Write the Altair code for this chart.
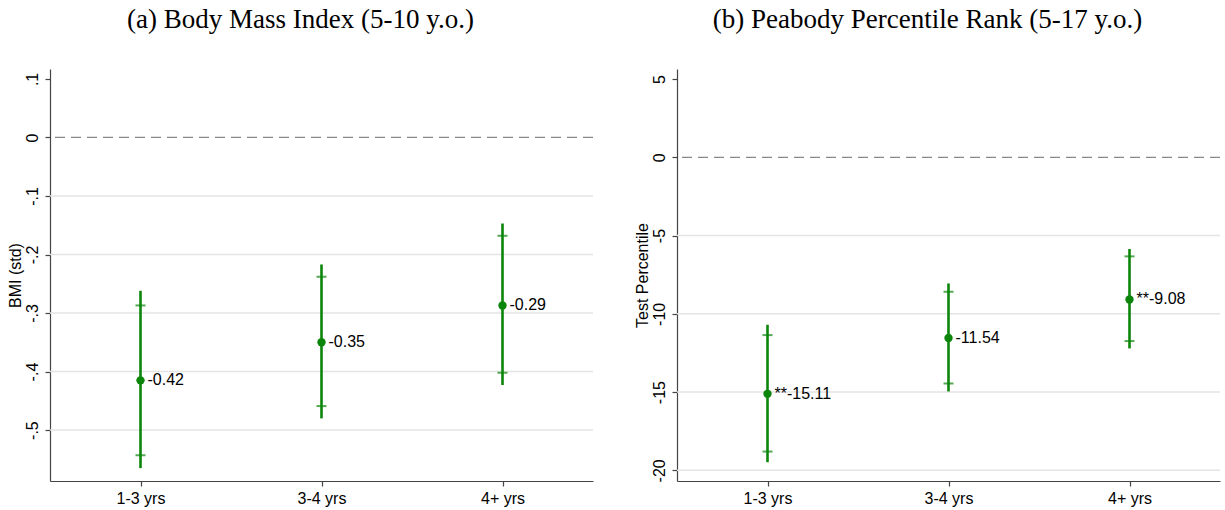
import altair as alt
import pandas as pd

# ---------------- data ----------------
categories = ["1-3 yrs", "3-4 yrs", "4+ yrs"]

bmi_est = [-0.415, -0.350, -0.287]
bmi_ci95_lo = [-0.565, -0.480, -0.423]
bmi_ci95_hi = [-0.262, -0.217, -0.147]
bmi_ci90_lo = [-0.543, -0.459, -0.402]
bmi_ci90_hi = [-0.287, -0.238, -0.168]
bmi_labels = ["-0.42", "-0.35", "-0.29"]

pea_est = [-15.11, -11.54, -9.08]
pea_ci95_lo = [-19.48, -14.96, -12.21]
pea_ci95_hi = [-10.70, -8.06, -5.86]
pea_ci90_lo = [-18.80, -14.45, -11.74]
pea_ci90_hi = [-11.36, -8.59, -6.33]
pea_labels = ["**-15.11", "-11.54", "**-9.08"]

bmi_ticks = [-0.5, -0.4, -0.3, -0.2, -0.1, 0, 0.1]
bmi_grid = [-0.5, -0.4, -0.3, -0.2, -0.1]
bmi_domain = [-0.587, 0.117]

pea_ticks = [-20, -15, -10, -5, 0, 5]
pea_grid = [-20, -15, -10, -5]
pea_domain = [-20.68, 5.64]

zero_line = [0]

GREEN = "#0b860b"
SANS = "Liberation Sans"
SERIF = "Liberation Serif"

bmi_label_expr = ("datum.value == 0 ? '0' : (datum.value < 0 ? '-' : '') + "
                  "replace(format(abs(datum.value), '.1f'), '0.', '.')")
pea_label_expr = "(datum.value < 0 ? '-' : '') + format(abs(datum.value), 'd')"


def panel(est, lo95, hi95, lo90, hi90, labels, domain, ticks, grid,
          label_expr, title, ytitle):
    df = pd.DataFrame({"cat": categories, "est": est, "lo95": lo95,
                       "hi95": hi95, "lo90": lo90, "hi90": hi90,
                       "label": labels})
    gdf = pd.DataFrame({"g": grid})
    zdf = pd.DataFrame({"z": zero_line})

    yscale = alt.Scale(domain=domain, nice=False, zero=False)
    yaxis = alt.Axis(values=ticks, labelExpr=label_expr, title=ytitle,
                     grid=False, labelAngle=270, labelAlign="center",
                     labelBaseline="bottom", tickSize=5, labelPadding=5,
                     titlePadding=1)
    xenc = alt.X("cat:N", sort=categories,
                 scale=alt.Scale(type="point", padding=0.5),
                 axis=alt.Axis(title=None, labelAngle=0, tickSize=5,
                               labelPadding=4, grid=False))

    def Y(f):
        return alt.Y(f, type="quantitative", scale=yscale, axis=yaxis)

    base = alt.Chart(df)
    grid_l = alt.Chart(gdf).mark_rule(color="#e4e4e4", strokeWidth=1.5).encode(y=Y("g"))
    zero_l = alt.Chart(zdf).mark_rule(color="#888888", strokeWidth=1.3,
                                      strokeDash=[10, 6]).encode(y=Y("z"))
    ci = base.mark_rule(color=GREEN, strokeWidth=2.6).encode(
        x=xenc, y=Y("lo95"), y2="hi95")
    cap_lo = base.mark_tick(color=GREEN, size=10, thickness=2).encode(
        x=xenc, y=Y("lo90"))
    cap_hi = base.mark_tick(color=GREEN, size=10, thickness=2).encode(
        x=xenc, y=Y("hi90"))
    pts = base.mark_circle(color=GREEN, size=70, opacity=1).encode(
        x=xenc, y=Y("est"))
    txt = base.mark_text(align="left", baseline="middle", dx=7, fontSize=16,
                         font=SANS, color="black").encode(
        x=xenc, y=Y("est"), text="label:N")
    return alt.layer(grid_l, zero_l, ci, cap_lo, cap_hi, pts, txt).properties(
        width=543, height=412,
        title=alt.TitleParams(title, font=SERIF, fontSize=27,
                              fontWeight="normal", color="black",
                              anchor="middle", offset=35, dx=-21))


left = panel(bmi_est, bmi_ci95_lo, bmi_ci95_hi, bmi_ci90_lo, bmi_ci90_hi,
             bmi_labels, bmi_domain, bmi_ticks, bmi_grid, bmi_label_expr,
             "(a) Body Mass Index (5-10 y.o.)", "BMI (std)")
right = panel(pea_est, pea_ci95_lo, pea_ci95_hi, pea_ci90_lo, pea_ci90_hi,
              pea_labels, pea_domain, pea_ticks, pea_grid, pea_label_expr,
              "(b) Peabody Percentile Rank (5-17 y.o.)", "Test Percentile")

chart = alt.hconcat(left, right, spacing=40).properties(
    padding={"left": 6, "top": 6, "right": 4, "bottom": 4},
    background="white",
).configure_view(stroke=None).configure_axis(
    labelFont=SANS, labelFontSize=16, labelColor="black",
    titleFont=SANS, titleFontSize=16, titleFontWeight="normal",
    titleColor="black", domainColor="#444444", tickColor="#444444",
    domainWidth=1.2, tickWidth=1.2,
)

chart.save("out.html", embed_options={"renderer": "svg", "actions": False})
